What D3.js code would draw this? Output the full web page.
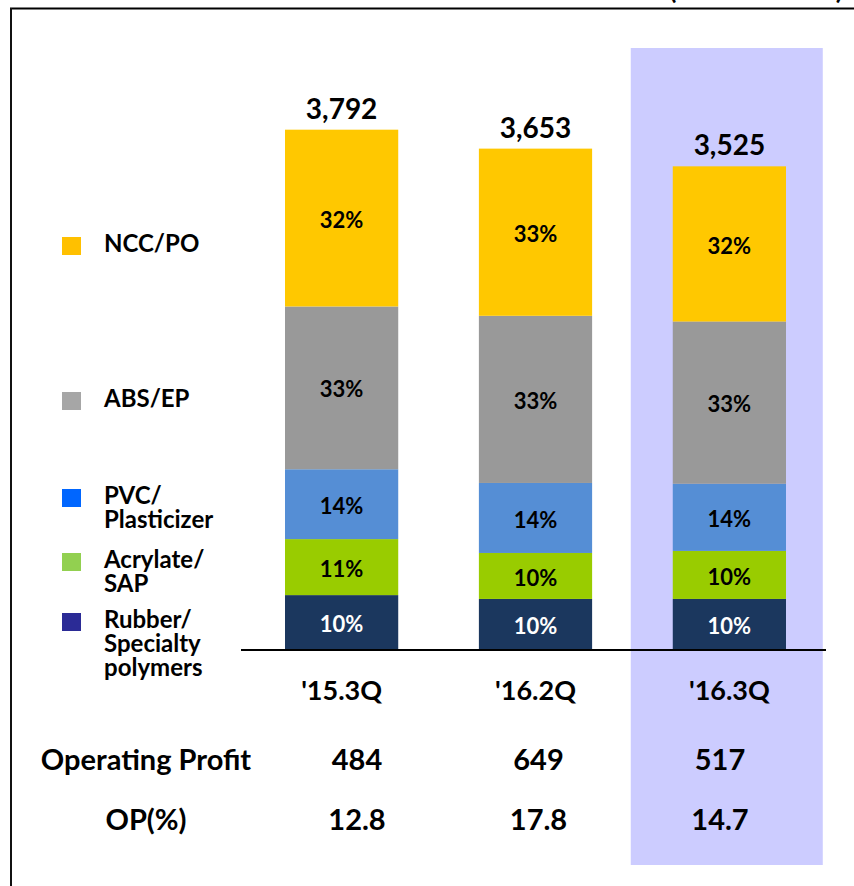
<!DOCTYPE html>
<html>
<head>
<meta charset="utf-8">
<script src="https://cdn.jsdelivr.net/npm/d3@7"></script>
<style>
  body { margin: 0; background: #fff; }
  svg text { font-family: Lato, "Liberation Sans", sans-serif; font-weight: bold; }
</style>
</head>
<body>
<svg id="chart" width="854" height="886"></svg>
<script>
// data
var categories = ["'15.3Q", "'16.2Q", "'16.3Q"];
var totals = [3792, 3653, 3525];
var ncc = [1288, 1218, 1131];
var abs = [1186, 1218, 1182];
var pvc = [509, 510, 489];
var acrylate = [408, 335, 350];
var rubber = [400, 372, 372];
var nccPct = ["32%", "33%", "32%"];
var absPct = ["33%", "33%", "33%"];
var pvcPct = ["14%", "14%", "14%"];
var acrylatePct = ["11%", "10%", "10%"];
var rubberPct = ["10%", "10%", "10%"];
var opProfit = ["484", "649", "517"];
var opRatio = ["12.8", "17.8", "14.7"];

var keys = ['rubber', 'acrylate', 'pvc', 'abs', 'ncc'];
var seriesVals = { rubber: rubber, acrylate: acrylate, pvc: pvc, abs: abs, ncc: ncc };
var seriesPct = { rubber: rubberPct, acrylate: acrylatePct, pvc: pvcPct, abs: absPct, ncc: nccPct };
var barColors = { ncc: '#FFC800', abs: '#999999', pvc: '#558ED5', acrylate: '#99CC00', rubber: '#1B375E' };
var legendColors = { ncc: '#FFC000', abs: '#A6A6A6', pvc: '#0066FF', acrylate: '#92D050', rubber: '#2B2B96' };
var legendItems = [
    { key: 'ncc', lines: ['NCC/PO'], y: 246 },
    { key: 'abs', lines: ['ABS/EP'], y: 401 },
    { key: 'pvc', lines: ['PVC/', 'Plasticizer'], y: 498 },
    { key: 'acrylate', lines: ['Acrylate/', 'SAP'], y: 562 },
    { key: 'rubber', lines: ['Rubber/', 'Specialty', 'polymers'], y: 622 }
];

var data = categories.map(function(c, i) {
    var row = { group: c, total: totals[i] };
    keys.forEach(function(k) { row[k] = seriesVals[k][i]; });
    return row;
});

var svg = d3.select('#chart');
var baseY = 650;

var x = d3.scaleBand()
    .domain(categories)
    .range([285, 786])
    .paddingInner(0.416)
    .paddingOuter(0);

var y = d3.scaleLinear()
    .domain([0, 4000])
    .range([baseY, baseY - 4000 * 0.13725]);

var tableX = d3.scalePoint()
    .domain(categories)
    .range([357, 720]);

// highlight behind last quarter
var last = categories[categories.length - 1];
svg.append('rect')
    .attr('x', x(last) - 42)
    .attr('y', 48)
    .attr('width', 192)
    .attr('height', 817)
    .attr('fill', '#CCCCFF');

// frame
svg.append('line')
    .attr('x1', 10).attr('x2', 854)
    .attr('y1', 8.5).attr('y2', 8.5)
    .attr('stroke', '#000').attr('stroke-width', 2);
svg.append('line')
    .attr('x1', 11).attr('x2', 11)
    .attr('y1', 8).attr('y2', 886)
    .attr('stroke', '#111').attr('stroke-width', 2);

// unit text, mostly cut off at the top
svg.append('text')
    .attr('x', 843)
    .attr('y', -1)
    .attr('text-anchor', 'end')
    .attr('font-size', 26)
    .text('(Unit: KRW bn)');

var stacked = d3.stack().keys(keys)(data);

var groups = svg.selectAll('.stacked-group')
    .data(stacked)
    .join('g')
    .attr('class', 'stacked-group')
    .attr('fill', function(d) { return barColors[d.key]; });

groups.selectAll('rect')
    .data(function(d) { return d; })
    .join('rect')
        .attr('x', function(d) { return x(d.data.group); })
        .attr('y', function(d) { return y(d[1]); })
        .attr('height', function(d) { return y(d[0]) - y(d[1]); })
        .attr('width', x.bandwidth());

groups.each(function(s) {
    d3.select(this).selectAll('text')
        .data(s)
        .join('text')
            .attr('x', function(d) { return x(d.data.group) + x.bandwidth() / 2; })
            .attr('y', function(d) { return (y(d[0]) + y(d[1])) / 2 + 4; })
            .attr('text-anchor', 'middle')
            .attr('dominant-baseline', 'middle')
            .attr('font-size', 22)
            .attr('fill', s.key === 'rubber' ? '#fff' : '#000')
            .text(function(d, i) { return seriesPct[s.key][i]; });
});

// totals
svg.selectAll('.total')
    .data(data)
    .join('text')
    .attr('class', 'total')
    .attr('x', function(d) { return x(d.group) + x.bandwidth() / 2; })
    .attr('y', function(d) { return y(d.total) - 11; })
    .attr('text-anchor', 'middle')
    .attr('font-size', 28)
    .text(function(d) { return d3.format(',')(d.total); });

// baseline
svg.append('line')
    .attr('x1', 241).attr('x2', 826)
    .attr('y1', baseY).attr('y2', baseY)
    .attr('stroke', '#000').attr('stroke-width', 2);

// category labels
svg.selectAll('.cat')
    .data(categories)
    .join('text')
    .attr('class', 'cat')
    .attr('x', function(d) { return x(d) + x.bandwidth() / 2; })
    .attr('y', 693)
    .attr('text-anchor', 'middle')
    .attr('dominant-baseline', 'middle')
    .attr('font-size', 27)
    .text(function(d) { return d; });

// legend
var legend = svg.append('g');
legendItems.forEach(function(item) {
    var g = legend.append('g');
    g.append('rect')
        .attr('x', 62)
        .attr('y', item.y - 9)
        .attr('width', 19)
        .attr('height', 18)
        .attr('fill', legendColors[item.key]);
    item.lines.forEach(function(line, i) {
        g.append('text')
            .attr('x', 104)
            .attr('y', item.y + i * 24)
            .attr('dominant-baseline', 'middle')
            .attr('font-size', 24)
            .text(line);
    });
});

// table rows
var rows = [
    { label: 'Operating Profit', values: opProfit, y: 763 },
    { label: 'OP(%)', values: opRatio, y: 823 }
];
rows.forEach(function(r) {
    svg.append('text')
        .attr('x', 146)
        .attr('y', r.y)
        .attr('text-anchor', 'middle')
        .attr('dominant-baseline', 'middle')
        .attr('font-size', 29)
        .text(r.label);
    svg.selectAll(null)
        .data(r.values)
        .join('text')
        .attr('x', function(d, i) { return tableX(categories[i]); })
        .attr('y', r.y)
        .attr('text-anchor', 'middle')
        .attr('dominant-baseline', 'middle')
        .attr('font-size', 29)
        .text(function(d) { return d; });
});
</script>
</body>
</html>
